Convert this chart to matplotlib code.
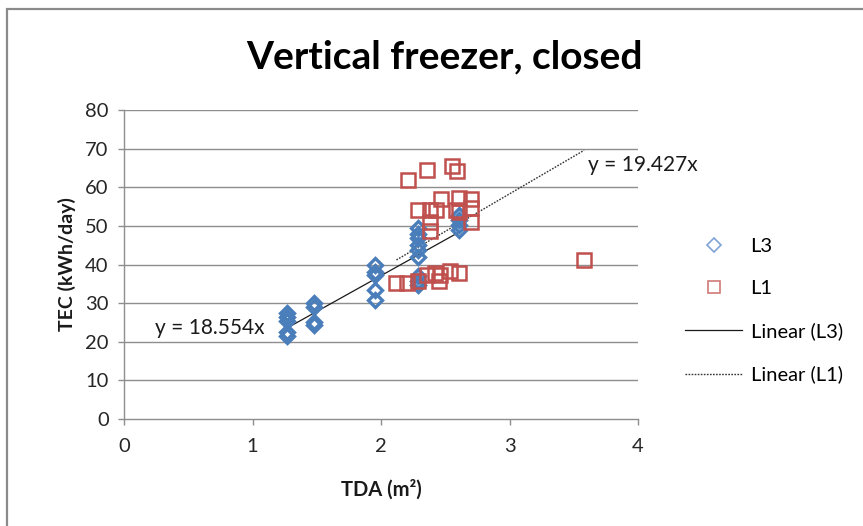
import matplotlib
matplotlib.use("Agg")
import matplotlib.pyplot as plt
from matplotlib.lines import Line2D
from matplotlib.patches import Rectangle
import numpy as np

plt.rcParams['font.family'] = ['Lato', 'DejaVu Sans']

# ---- data ----
l3_x = [1.27, 1.27, 1.27, 1.27, 1.27,
        1.48, 1.48, 1.48, 1.48,
        1.95, 1.95, 1.95, 1.95, 1.95,
        2.29, 2.29, 2.29, 2.29, 2.29, 2.29, 2.29, 2.29, 2.29,
        2.61, 2.61, 2.61, 2.61]
l3_y = [27.5, 26.5, 25.5, 22.5, 21.5,
        30.0, 29.0, 25.2, 24.4,
        40.0, 38.0, 37.3, 33.4, 30.8,
        49.4, 48.0, 46.8, 45.0, 43.8, 42.0, 36.9, 35.6, 34.7,
        52.8, 51.5, 50.3, 49.0]

l1_x = [2.21, 2.36, 2.55, 2.59, 2.29, 2.38, 2.43, 2.47, 2.38, 2.38,
        2.61, 2.58, 2.70, 2.70, 2.70, 2.61,
        2.12, 2.20, 2.29, 2.36, 2.42, 2.45, 2.46, 2.54, 2.61, 3.58]
l1_y = [62.0, 64.5, 65.4, 64.3, 54.0, 54.0, 54.0, 57.0, 51.0, 48.7,
        57.2, 54.0, 57.0, 54.5, 51.0, 53.7,
        35.1, 35.1, 35.6, 37.3, 37.7, 35.6, 37.3, 38.2, 37.7, 41.2]

slope_l3 = 18.554
slope_l1 = 19.427

title = "Vertical freezer, closed"
x_label = "TDA (m²)"
y_label = "TEC (kWh/day)"
x_ticks = [0, 1, 2, 3, 4]
y_ticks = [0, 10, 20, 30, 40, 50, 60, 70, 80]

# ---- figure ----
W, H = 863, 526
fig = plt.figure(figsize=(W / 100, H / 100), dpi=100)
ax = fig.add_axes([124 / W, 1 - 419 / H, (638 - 124) / W, (419 - 110) / H])

blue = '#4a7ebb'
red = '#c0504d'
grid_c = '#8e8e8e'

for y in y_ticks[1:]:
    ax.axhline(y, color=grid_c, lw=1.0, zorder=0)

# trendlines
xs3 = np.array([min(l3_x), max(l3_x)])
ax.plot(xs3, slope_l3 * xs3, color='#1a1a1a', lw=0.9, zorder=3)
xs1 = np.array([min(l1_x), max(l1_x)])
ax.plot(xs1, slope_l1 * xs1, color='#333333', lw=1.0, ls=(0, (1.2, 1.0)), zorder=3)

ax.plot(l3_x, l3_y, ls='none', marker='D', ms=7, mfc='none', mec=blue, mew=2.4, zorder=4)
ax.plot(l1_x, l1_y, ls='none', marker='s', ms=10, mfc='none', mec=red, mew=1.8, zorder=5)

ax.text(0.24, 23.6, "y = 18.554x", fontsize=15, va='center', ha='left', color='#1a1a1a')
ax.text(3.61, 65.8, "y = 19.427x", fontsize=15, va='center', ha='left', color='#1a1a1a')

ax.set_xlim(0, 4)
ax.set_ylim(0, 80)
ax.set_xticks(x_ticks)
ax.set_yticks(y_ticks)
ax.tick_params(axis='both', labelsize=14.5, colors='#8e8e8e', labelcolor='#262626', length=4, width=1)
ax.tick_params(axis='x', pad=10)
ax.tick_params(axis='y', pad=7)
for s in ['top', 'right']:
    ax.spines[s].set_visible(False)
for s in ['left', 'bottom']:
    ax.spines[s].set_color(grid_c)
    ax.spines[s].set_linewidth(1.0)

ax.set_xlabel(x_label, fontsize=14.5, fontweight='bold', labelpad=17, color='#1a1a1a')
ax.set_ylabel(y_label, fontsize=14, fontweight='bold', labelpad=7, color='#1a1a1a')

fig.text(444 / W, 1 - 57 / H, title, fontsize=28, fontweight='bold', ha='center', va='center')

handles = [
    Line2D([], [], ls='none', marker='D', ms=7, mfc='none', mec='#7fa3d6', mew=1.2),
    Line2D([], [], ls='none', marker='s', ms=8.5, mfc='none', mec='#d07a78', mew=1.2),
    Line2D([], [], color='#1a1a1a', lw=0.9),
    Line2D([], [], color='#333333', lw=1.0, ls=(0, (1.2, 1.0))),
]
labels = ["L3", "L1", "Linear (L3)", "Linear (L1)"]
fig.legend(handles, labels, loc='upper left', bbox_to_anchor=(675 / W, 1 - 228 / H),
           frameon=False, fontsize=14.5, handlelength=2.85, handletextpad=0.4,
           labelspacing=1.25, borderpad=0)

# chart-area border
fig.patches.append(Rectangle((7 / W, -0.05), 1.2, 1 - 9 / H + 0.05, transform=fig.transFigure,
                             fill=False, edgecolor='#8a8a8a', lw=1.6))

fig.savefig("out.png", dpi=100)
